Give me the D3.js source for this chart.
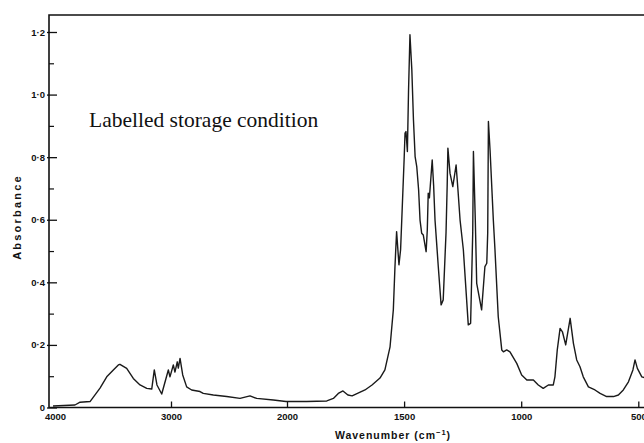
<!DOCTYPE html>
<html>
<head>
<meta charset="utf-8">
<script src="https://cdn.jsdelivr.net/npm/d3@7"></script>
<style>
  body { margin: 0; background: #fff; }
  svg { display: block; }
</style>
</head>
<body>
<svg id="chart" width="644" height="443"></svg>
<script>
// IR spectrum (wavenumber in cm-1, absorbance)
var wavenumber = [4017,3828,3784,3698,3612,3554,3497,3454,3440,3382,
    3325,3267,3209,3166,3144,3121,3080,3023,3009,2980,
    2966,2946,2937,2922,2899,2865,2822,2750,2722,2635,
    2520,2405,2319,2261,2118,2009,1916,1830,1802,1781,
    1761,1740,1722,1667,1637,1603,1582,1560,1546,1539,
    1532,1522,1515,1510,1500,1496,1492,1486,1481,1475,
    1467,1460,1453,1446,1438,1432,1425,1418,1406,1401,
    1397,1392,1380,1374,1368,1354,1342,1333,1321,1316,
    1313,1304,1292,1278,1270,1261,1247,1226,1216,1207,
    1204,1196,1190,1169,1155,1147,1143,1140,1133,1119,
    1112,1098,1083,1076,1062,1048,1019,998,976,948,
    927,906,884,863,856,846,834,824,810,791,
    777,763,749,735,713,685,663,635,606,585,
    564,542,523,514,504,485,467];
var absorbance = [0.005,0.008,0.017,0.019,0.062,0.098,0.120,0.136,0.138,0.125,
    0.093,0.072,0.061,0.059,0.120,0.072,0.043,0.120,0.098,0.136,
    0.113,0.146,0.126,0.157,0.104,0.066,0.056,0.051,0.045,0.040,
    0.035,0.029,0.037,0.029,0.024,0.019,0.019,0.021,0.029,0.045,
    0.053,0.040,0.037,0.056,0.072,0.094,0.120,0.194,0.312,0.450,
    0.562,0.456,0.504,0.599,0.791,0.877,0.882,0.818,1.015,1.191,
    1.079,0.919,0.802,0.770,0.695,0.599,0.557,0.551,0.498,0.567,
    0.685,0.670,0.791,0.711,0.599,0.450,0.328,0.344,0.558,0.711,
    0.829,0.749,0.706,0.775,0.695,0.599,0.504,0.264,0.269,0.557,
    0.818,0.599,0.397,0.312,0.450,0.461,0.558,0.914,0.823,0.599,
    0.504,0.290,0.184,0.178,0.184,0.178,0.141,0.104,0.088,0.088,
    0.072,0.061,0.072,0.072,0.098,0.184,0.253,0.242,0.200,0.285,
    0.205,0.152,0.130,0.098,0.066,0.056,0.045,0.035,0.035,0.040,
    0.056,0.082,0.120,0.152,0.125,0.098,0.094];

var xTickLabels = [4000, 3000, 2000, 1500, 1000, 500];
var yTickLabels = [0, 0.2, 0.4, 0.6, 0.8, 1.0, 1.2];
var yMinorTicks = [0.1, 0.3, 0.5, 0.7, 0.9, 1.1];
var annotation = "Labelled storage condition";

var svg = d3.select("#chart"),
    width = +svg.attr("width"),
    height = +svg.attr("height"),
    frameLeft = 49,
    frameTop = 15,
    frameBottom = 407.5;

// the chart uses a 2x expanded scale below 2000 cm-1
var x = d3.scaleLinear().domain([4000, 2000, 500]).range([55, 287, 638.3]);
var y = d3.scaleLinear().domain([0, 1.2]).range([frameBottom, 32]);

var axisFont = "'Liberation Sans', Arial, sans-serif";

// frame (left, top and bottom lines; right side is cut off in the scan)
svg.append("path")
    .attr("d", "M" + (width + 5) + "," + frameTop + "H" + frameLeft + "V" + frameBottom + "H" + (width + 5))
    .attr("fill", "none")
    .attr("stroke", "#111")
    .attr("stroke-width", 1.6);

// x axis, ticks pointing up into the plot
var gx = svg.append("g")
    .attr("transform", "translate(0," + frameBottom + ")")
    .call(d3.axisBottom(x).tickValues(xTickLabels).tickSizeInner(-6).tickSizeOuter(0)
        .tickPadding(6).tickFormat(d3.format("d")));
gx.select(".domain").remove();
gx.selectAll(".tick line").attr("stroke", "#111").attr("stroke-width", 1.3)
    .filter(function (d) { return d === 4000; }).remove();
gx.selectAll(".tick text")
    .attr("font-family", axisFont).attr("font-size", 9.5).attr("font-weight", "bold").attr("fill", "#111");

// y axis
var gy = svg.append("g")
    .attr("transform", "translate(" + frameLeft + ",0)")
    .call(d3.axisLeft(y).tickValues(yTickLabels).tickSizeInner(-8).tickSizeOuter(0)
        .tickPadding(4)
        .tickFormat(function (d) { return d === 0 ? "0" : d3.format(".1f")(d).replace(".", "\u00b7"); }));
gy.select(".domain").remove();
gy.selectAll(".tick line").attr("x1", -2).attr("stroke", "#111").attr("stroke-width", 1.3);
gy.selectAll(".tick text")
    .attr("font-family", axisFont).attr("font-size", 9.5).attr("font-weight", "bold").attr("fill", "#111");

var gyMinor = svg.append("g")
    .attr("transform", "translate(" + frameLeft + ",0)")
    .call(d3.axisLeft(y).tickValues(yMinorTicks).tickSizeInner(-5).tickSizeOuter(0).tickFormat(""));
gyMinor.select(".domain").remove();
gyMinor.selectAll(".tick line").attr("stroke", "#111").attr("stroke-width", 1.2);

// axis titles
svg.append("text")
    .attr("transform", "translate(21,217) rotate(-90)")
    .attr("text-anchor", "middle")
    .attr("font-family", axisFont).attr("font-size", 11).attr("font-weight", "bold")
    .attr("letter-spacing", 2.2)
    .attr("fill", "#111")
    .text("Absorbance");

var xTitle = svg.append("text")
    .attr("x", 393).attr("y", 439)
    .attr("text-anchor", "middle")
    .attr("font-family", axisFont).attr("font-size", 10.5).attr("font-weight", "bold")
    .attr("letter-spacing", 1)
    .attr("fill", "#111");
xTitle.append("tspan").text("Wavenumber (cm");
xTitle.append("tspan").attr("dy", -4).attr("font-size", 7.5).text("\u22121");
xTitle.append("tspan").attr("dy", 4).text(")");

// spectrum
var points = wavenumber.map(function (w, i) { return [w, absorbance[i]]; });
var line = d3.line()
    .x(function (d) { return x(d[0]); })
    .y(function (d) { return y(d[1]); });

svg.append("path")
    .datum(points)
    .attr("d", line)
    .attr("fill", "none")
    .attr("stroke", "#1a1a1a")
    .attr("stroke-width", 1.4)
    .attr("stroke-linejoin", "round");

// annotation
svg.append("text")
    .attr("x", 89).attr("y", 127)
    .attr("font-family", "'Liberation Serif', 'Times New Roman', serif")
    .attr("font-size", 21.5)
    .attr("fill", "#111")
    .text(annotation);
</script>
</body>
</html>
